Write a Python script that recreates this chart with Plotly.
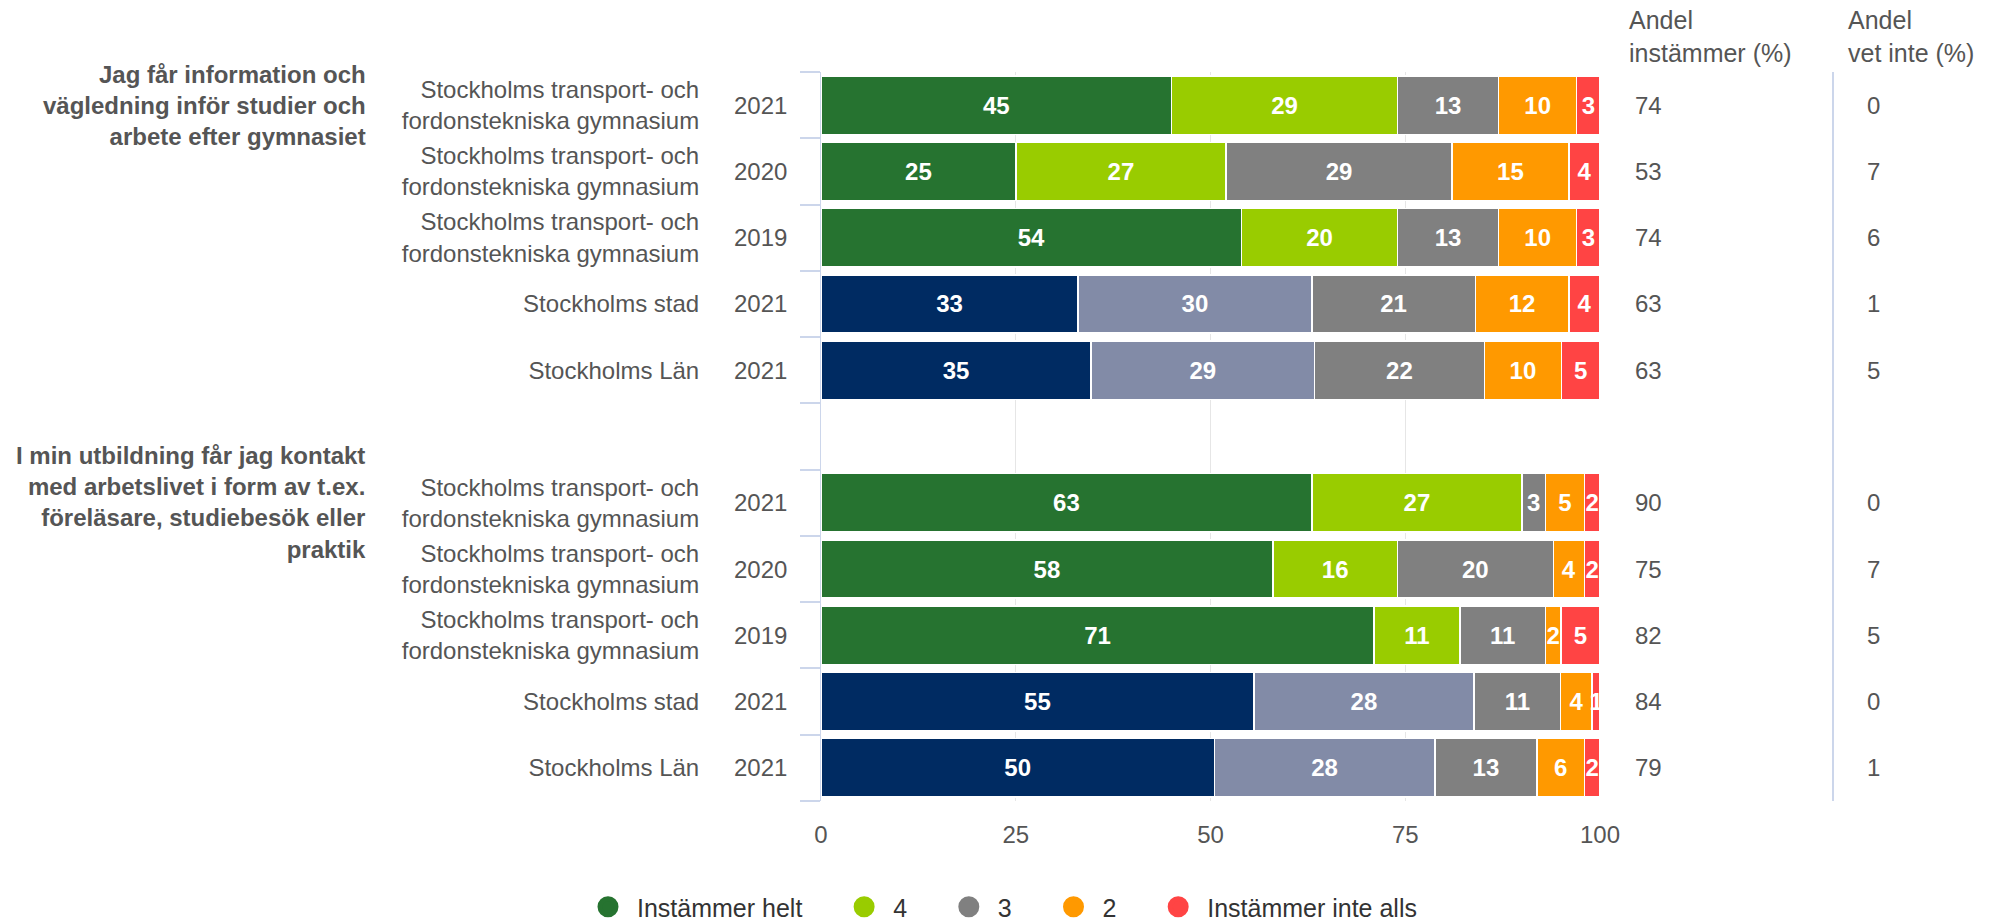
import plotly.graph_objects as go

# ---------------- data ----------------
row_ids = ["A1", "A2", "A3", "A4", "A5", "gap", "B1", "B2", "B3", "B4", "B5"]
row_names = [
    "Stockholms transport- och<br>fordonstekniska gymnasium",
    "Stockholms transport- och<br>fordonstekniska gymnasium",
    "Stockholms transport- och<br>fordonstekniska gymnasium",
    "Stockholms stad",
    "Stockholms Län",
    "",
    "Stockholms transport- och<br>fordonstekniska gymnasium",
    "Stockholms transport- och<br>fordonstekniska gymnasium",
    "Stockholms transport- och<br>fordonstekniska gymnasium",
    "Stockholms stad",
    "Stockholms Län",
]
row_years = ["2021", "2020", "2019", "2021", "2021", "", "2021", "2020", "2019", "2021", "2021"]
row_kind = ["school", "school", "school", "region", "region", None,
            "school", "school", "school", "region", "region"]

series_names = ["Instämmer helt", "4", "3", "2", "Instämmer inte alls"]
v_helt = [45, 25, 54, 33, 35, None, 63, 58, 71, 55, 50]
v_4 = [29, 27, 20, 30, 29, None, 27, 16, 11, 28, 28]
v_3 = [13, 29, 13, 21, 22, None, 3, 20, 11, 11, 13]
v_2 = [10, 15, 10, 12, 10, None, 5, 4, 2, 4, 6]
v_inte = [3, 4, 3, 4, 5, None, 2, 2, 5, 1, 2]
series_values = [v_helt, v_4, v_3, v_2, v_inte]

andel_instammer = ["74", "53", "74", "63", "63", "", "90", "75", "82", "84", "79"]
andel_vet_inte = ["0", "7", "6", "1", "5", "", "0", "7", "5", "0", "1"]

questions = [
    "Jag får information och<br>vägledning inför studier och<br>arbete efter gymnasiet",
    "I min utbildning får jag kontakt<br>med arbetslivet i form av t.ex.<br>föreläsare, studiebesök eller<br>praktik",
]
question_rows = ["A1", "B1"]

# ---------------- styles ----------------
FONT = "Liberation Sans, Arial, sans-serif"
TXT = "#555555"
school_colors = ["#267330", "#99cc00", "#808080", "#ff9900", "#ff4444"]
region_colors = ["#002b62", "#828ba7", "#808080", "#ff9900", "#ff4444"]

W, H = 1994, 922
L, R, T, B = 821, 394, 72, 121
pw = W - L - R
ph = H - T - B


def px(xpix):
    return (xpix - L) / pw


def py(ypix):
    return (H - B - ypix) / ph


fig = go.Figure()

for i, (name, vals) in enumerate(zip(series_names, series_values)):
    colors = []
    for k in row_kind:
        if k == "region":
            colors.append(region_colors[i])
        else:
            colors.append(school_colors[i])
    fig.add_trace(go.Bar(
        y=row_ids, x=vals, orientation="h", name=name,
        marker=dict(color=colors, line=dict(color="white", width=1.5)),
        text=[("" if v is None else str(v)) for v in vals],
        textposition="inside", insidetextanchor="middle", textangle=0,
        textfont=dict(family=FONT, size=24, color="white", weight="bold"),
        showlegend=False, hoverinfo="skip",
    ))

# legend entries (circles)
for i, name in enumerate(series_names):
    fig.add_trace(go.Scatter(
        x=[None], y=[None], mode="markers", name=name + "\u00a0" * 4,
        marker=dict(symbol="circle", size=16, color=school_colors[i],
                    line=dict(color=school_colors[i], width=5)),
        showlegend=True,
    ))

annotations = []
# years
for rid, yr in zip(row_ids, row_years):
    if yr:
        annotations.append(dict(x=px(760), xref="paper", y=rid, yref="y", text=yr,
                                showarrow=False, xanchor="center",
                                font=dict(family=FONT, size=24, color=TXT)))
# right columns
for rid, a, b in zip(row_ids, andel_instammer, andel_vet_inte):
    if a:
        annotations.append(dict(x=px(1633), xref="paper", y=rid, yref="y", text=a,
                                showarrow=False, xanchor="left",
                                font=dict(family=FONT, size=24, color=TXT)))
        annotations.append(dict(x=px(1865), xref="paper", y=rid, yref="y", text=b,
                                showarrow=False, xanchor="left",
                                font=dict(family=FONT, size=24, color=TXT)))
# column headers
annotations.append(dict(x=px(1627), xref="paper", y=py(37), yref="paper",
                        text="Andel<br>instämmer (%)", showarrow=False, xanchor="left",
                        yanchor="middle", align="left",
                        font=dict(family=FONT, size=25, color=TXT)))
annotations.append(dict(x=px(1846), xref="paper", y=py(37), yref="paper",
                        text="Andel<br>vet inte (%)", showarrow=False, xanchor="left",
                        yanchor="middle", align="left",
                        font=dict(family=FONT, size=25, color=TXT)))
# question labels
for q, rid in zip(questions, question_rows):
    annotations.append(dict(x=px(368), xref="paper", y=rid, yref="y", text="<b>" + q + "</b>",
                            showarrow=False, xanchor="right", align="right",
                            font=dict(family=FONT, size=24, color=TXT)))

fig.update_layout(
    width=W, height=H,
    margin=dict(l=L, r=R, t=T, b=B, pad=0, autoexpand=False),
    paper_bgcolor="white", plot_bgcolor="white",
    barmode="stack", barnorm="percent", bargap=0.12,
    uniformtext=dict(minsize=24, mode="show"),
    font=dict(family=FONT, size=24, color=TXT),
    annotations=annotations,
    shapes=[dict(type="line", xref="paper", yref="paper", x0=px(1833), x1=px(1833),
                 y0=0, y1=1, line=dict(color="#ccd6eb", width=2))],
    legend=dict(orientation="h", xref="paper", yref="paper", traceorder="normal",
                x=px(579), xanchor="left", y=py(907), yanchor="middle",
                itemwidth=48, font=dict(family=FONT, size=25, color="#333333"),
                bgcolor="rgba(0,0,0,0)"),
)

fig.update_xaxes(
    range=[0, 100], tickvals=[0, 25, 50, 75, 100], showgrid=True,
    gridcolor="#e6e6e6", gridwidth=1, zeroline=False, showline=False,
    ticks="", tickfont=dict(family=FONT, size=24, color=TXT),
    ticklabelstandoff=17, fixedrange=True,
)
fig.update_yaxes(
    type="category", categoryorder="array", categoryarray=row_ids,
    range=[len(row_ids) - 0.5, -0.5],
    tickmode="array", tickvals=row_ids, ticktext=row_names,
    tickson="boundaries", ticks="outside", ticklen=20, tickwidth=2,
    tickcolor="#ccd6eb", showline=True, linecolor="#ccd6eb", linewidth=1,
    showgrid=False, tickfont=dict(family=FONT, size=24, color=TXT),
    ticklabelstandoff=116, fixedrange=True,
)

fig.write_html("out.html")
